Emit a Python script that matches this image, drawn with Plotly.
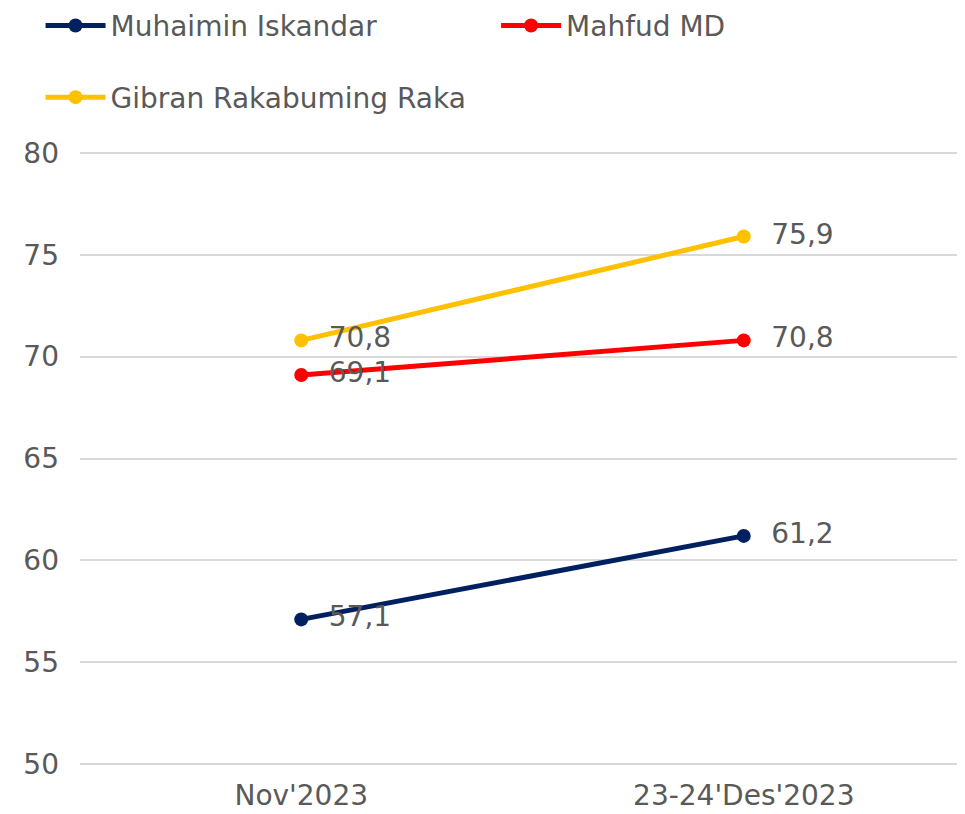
import plotly.graph_objects as go

categories = ["Nov'2023", "23-24'Des'2023"]
muhaimin = [57.1, 61.2]
mahfud = [69.1, 70.8]
gibran = [70.8, 75.9]
series_names = ["Muhaimin Iskandar", "Mahfud MD", "Gibran Rakabuming Raka"]
colors = ["#002060", "#FF0000", "#FFC000"]
y_ticks = [50, 55, 60, 65, 70, 75, 80]

FONT = "DejaVu Sans"
GREY = "#595959"
FS = 28

def fmt(v):
    return "  " + f"{v:.1f}".replace(".", ",")

fig = go.Figure()
legends = ["legend", "legend2", "legend3"]
for name, vals, col, lg in zip(series_names, [muhaimin, mahfud, gibran], colors, legends):
    fig.add_trace(go.Scatter(
        x=categories, y=vals, name=name, mode="lines+markers+text",
        line=dict(color=col, width=5),
        marker=dict(color=col, size=14),
        text=[fmt(v) for v in vals], textposition="middle right",
        textfont=dict(family=FONT, size=FS, color=GREY),
        legend=lg, cliponaxis=False,
    ))

def leg(x, y):
    return dict(orientation="h", xref="container", yref="container",
                x=x, xanchor="left", y=y, yanchor="middle",
                itemwidth=60, font=dict(family=FONT, size=FS, color=GREY),
                bgcolor="rgba(0,0,0,0)")

fig.update_layout(
    width=957, height=806,
    margin=dict(l=72, r=0, t=144, b=49, autoexpand=False),
    plot_bgcolor="white", paper_bgcolor="white",
    font=dict(family=FONT, size=FS, color=GREY),
    showlegend=True,
    legend=leg(0.034, 0.978),
    legend2=leg(0.510, 0.978),
    legend3=leg(0.034, 0.889),
    xaxis=dict(type="category", range=[-0.5, 1.5], showgrid=False, showline=False,
               ticks="", ticklabelstandoff=11, automargin=False,
               tickfont=dict(family=FONT, size=FS, color=GREY)),
    yaxis=dict(range=[49.95, 80.05], tickvals=y_ticks, showgrid=True, gridcolor="#D9D9D9",
               gridwidth=1.5, zeroline=False, showline=False, ticks="", automargin=False,
               ticklabelstandoff=20, tickfont=dict(family=FONT, size=FS, color=GREY)),
)

fig.write_html("out.html")
